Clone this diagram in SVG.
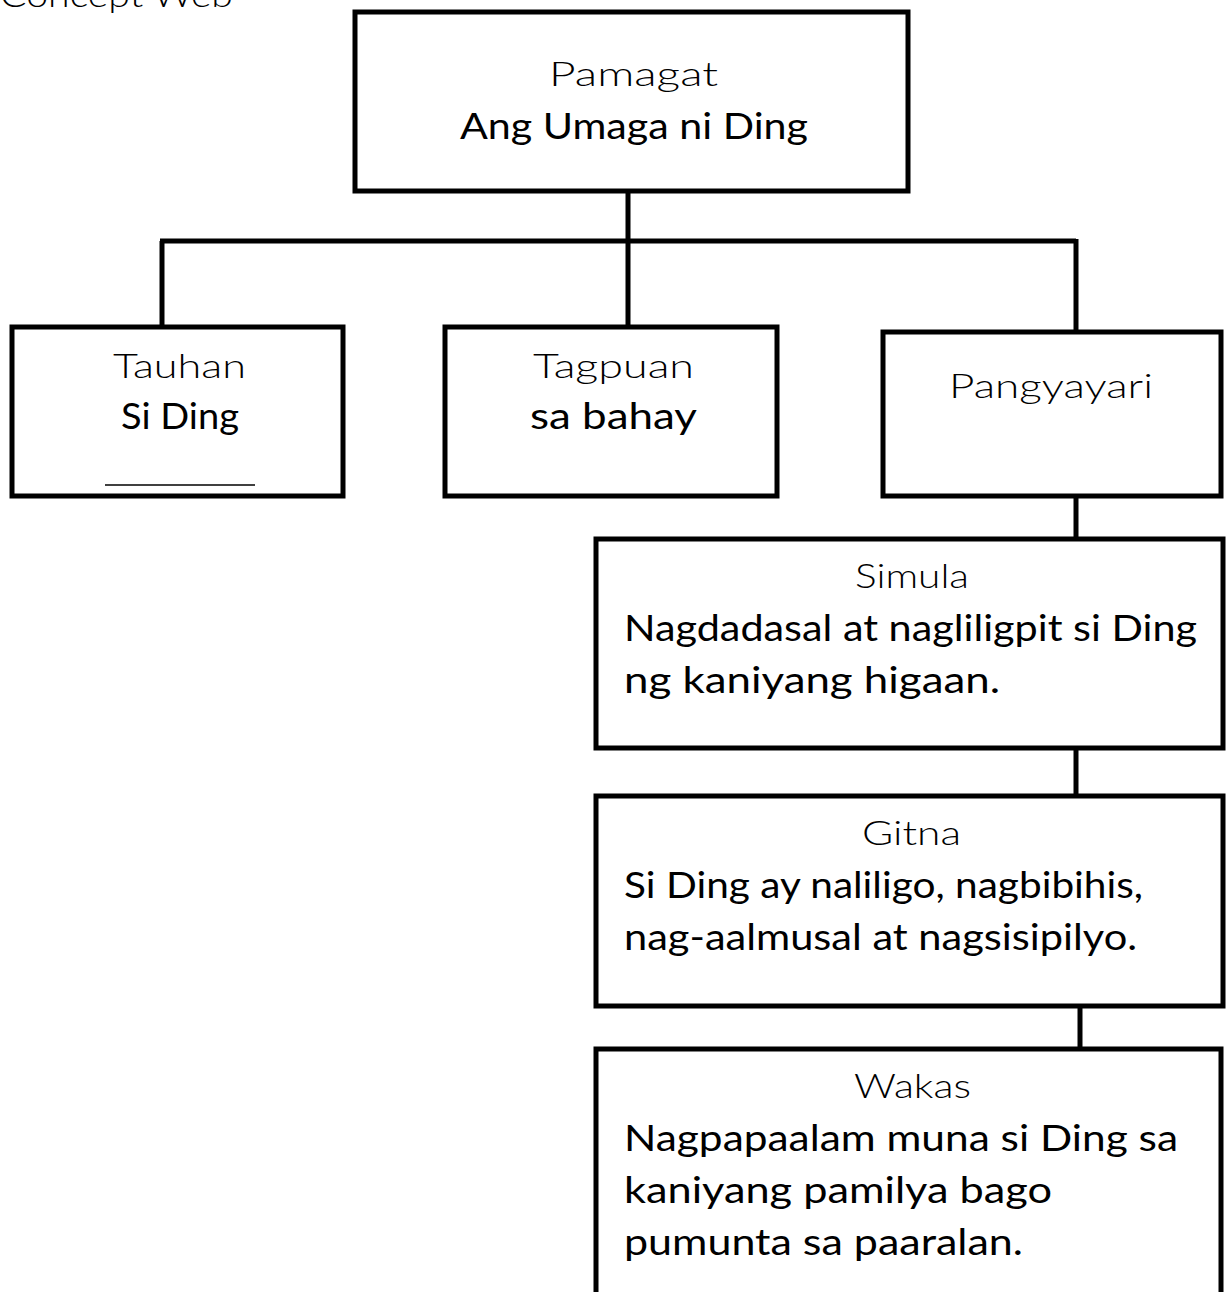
<svg xmlns="http://www.w3.org/2000/svg" width="1227" height="1292" viewBox="0 0 1227 1292">
<style>
.box{fill:#fff;stroke:#000;stroke-width:5}
.con{stroke:#000;stroke-width:5;fill:none}
.lbl{font-family:Lato,"Liberation Sans",sans-serif;font-weight:300;font-size:34px;fill:#000}
.txt{font-family:Lato,"Liberation Sans",sans-serif;font-weight:400;font-size:36px;fill:#000}
</style>
<rect width="1227" height="1292" fill="#fff"/>
<text class="lbl" x="0" y="7" textLength="233" lengthAdjust="spacingAndGlyphs">Concept Web</text>
<g id="connectors">
<line class="con" x1="628" y1="191" x2="628" y2="327"/>
<line class="con" x1="160" y1="241" x2="1076" y2="241"/>
<line class="con" x1="162" y1="241" x2="162" y2="327"/>
<line class="con" x1="1076" y1="239" x2="1076" y2="331"/>
<line class="con" x1="1076" y1="497" x2="1076" y2="539"/>
<line class="con" x1="1076" y1="748" x2="1076" y2="794"/>
<line class="con" x1="1080" y1="1006" x2="1080" y2="1049"/>
</g>
<g id="pamagat">
<rect class="box" x="355" y="12" width="553" height="179"/>
<text class="lbl" x="549" y="86" textLength="169" lengthAdjust="spacingAndGlyphs">Pamagat</text>
<text class="txt" x="460" y="139" textLength="348" lengthAdjust="spacingAndGlyphs">Ang Umaga ni Ding</text>
</g>
<g id="tauhan">
<rect class="box" x="12" y="327" width="331" height="169"/>
<text class="lbl" x="113" y="378" textLength="133" lengthAdjust="spacingAndGlyphs">Tauhan</text>
<text class="txt" x="121" y="429" textLength="118" lengthAdjust="spacingAndGlyphs">Si Ding</text>
<line x1="105" y1="485" x2="255" y2="485" stroke="#000" stroke-width="1.5"/>
</g>
<g id="tagpuan">
<rect class="box" x="445" y="327" width="332" height="169"/>
<text class="lbl" x="533" y="378" textLength="161" lengthAdjust="spacingAndGlyphs">Tagpuan</text>
<text class="txt" x="530" y="429" textLength="167" lengthAdjust="spacingAndGlyphs">sa bahay</text>
</g>
<g id="pangyayari">
<rect class="box" x="883" y="332" width="338" height="164"/>
<text class="lbl" x="949" y="398" textLength="204" lengthAdjust="spacingAndGlyphs">Pangyayari</text>
</g>
<g id="simula">
<rect class="box" x="596" y="539" width="627" height="209"/>
<text class="lbl" x="855" y="588" textLength="114" lengthAdjust="spacingAndGlyphs">Simula</text>
<text class="txt" x="624" y="641" textLength="573" lengthAdjust="spacingAndGlyphs">Nagdadasal at nagliligpit si Ding</text>
<text class="txt" x="624" y="693" textLength="376" lengthAdjust="spacingAndGlyphs">ng kaniyang higaan.</text>
</g>
<g id="gitna">
<rect class="box" x="596" y="796" width="627" height="210"/>
<text class="lbl" x="862" y="845" textLength="99" lengthAdjust="spacingAndGlyphs">Gitna</text>
<text class="txt" x="624" y="898" textLength="519" lengthAdjust="spacingAndGlyphs">Si Ding ay naliligo, nagbibihis,</text>
<text class="txt" x="624" y="950" textLength="513" lengthAdjust="spacingAndGlyphs">nag-aalmusal at nagsisipilyo.</text>
</g>
<g id="wakas">
<rect class="box" x="596" y="1049" width="625" height="260"/>
<text class="lbl" x="854" y="1098" textLength="117" lengthAdjust="spacingAndGlyphs">Wakas</text>
<text class="txt" x="624" y="1151" textLength="554" lengthAdjust="spacingAndGlyphs">Nagpapaalam muna si Ding sa</text>
<text class="txt" x="624" y="1203" textLength="428" lengthAdjust="spacingAndGlyphs">kaniyang pamilya bago</text>
<text class="txt" x="624" y="1255" textLength="399" lengthAdjust="spacingAndGlyphs">pumunta sa paaralan.</text>
</g>
</svg>
